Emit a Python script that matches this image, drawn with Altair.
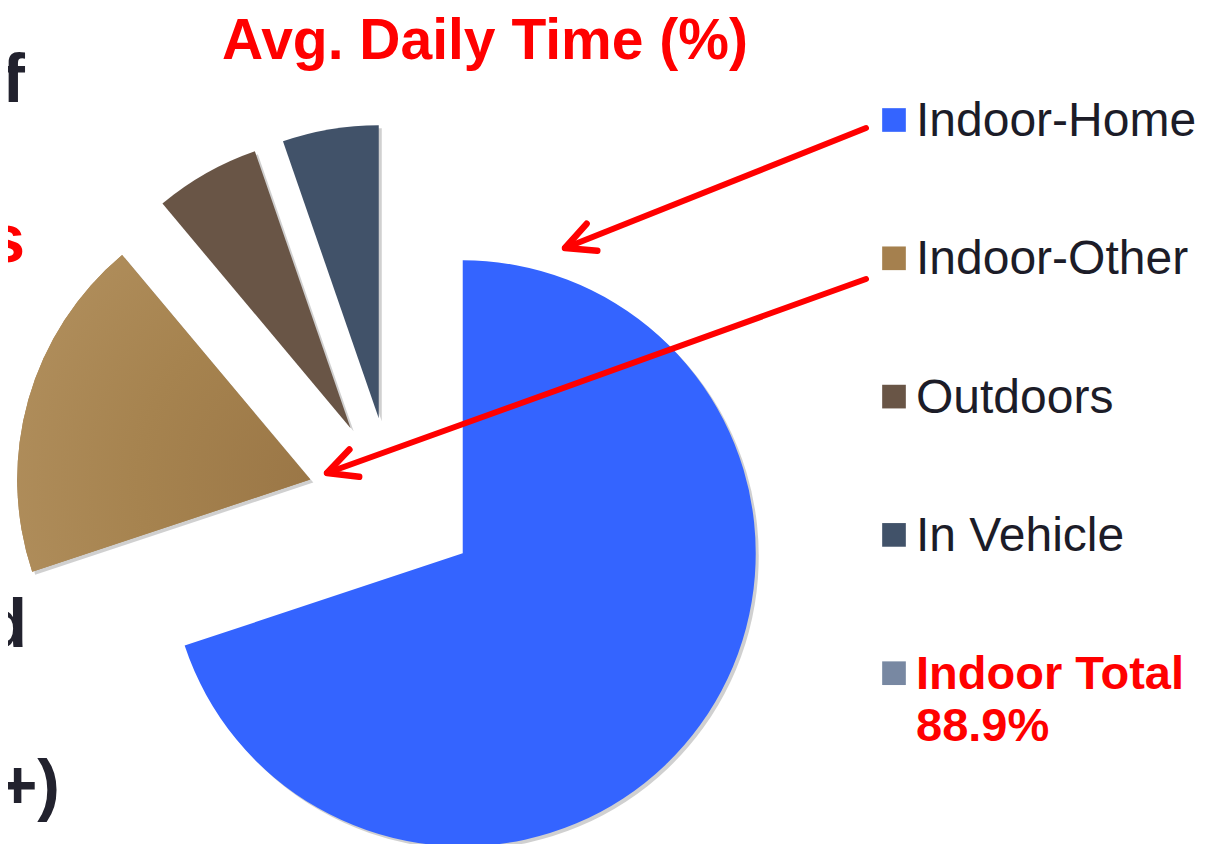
import altair as alt
import pandas as pd

# ---------------- data ----------------
categories = ["Indoor-Home", "Indoor-Other", "Outdoors", "In Vehicle"]
values = [69.9, 19.0, 5.8, 5.3]
slice_colors = ["#3464FF", "#A5804E", "#695546", "#415269"]
indoor_total = round(values[0] + values[1], 1)
legend_labels = categories + [f"Indoor Total\n{indoor_total}%"]
legend_colors = slice_colors + ["#7888A2"]
title_text = ["Avg. Daily Time (%)"]
side_fragments = ["f", "s", "d", "+)"]
side_colors = ["#22222E", "#FF0000", "#22222E", "#22222E"]

# ---------------- layout (pixels, chart coordinates) ----------------
W, H = 1196, 836
CX, CY = 385, 495
R = 293
EXPLODE = 86
LEG_X, LEG_Y0, LEG_DY = 886, 112, 138.3
side_x = [17, 17, 19, 52]
side_y = [94, 254, 639, 800]
arrow_x1 = [858, 858]
arrow_y1 = [120, 271]
arrow_x2 = [557, 319]
arrow_y2 = [240, 465]

pie_df = pd.DataFrame({"cat": categories, "value": values,
                       "order": list(range(len(categories))), "color": slice_colors})

base = (
    alt.Chart(pie_df)
    .transform_joinaggregate(total="sum(value)")
    .transform_window(cum="sum(value)", sort=[alt.SortField("order")], frame=[None, 0])
    .transform_calculate(t1="2*PI*datum.cum/datum.total")
    .transform_calculate(t0="2*PI*(datum.cum-datum.value)/datum.total")
    .transform_calculate(mid="(datum.t0+datum.t1)/2")
    .transform_calculate(cx=f"{CX}+{EXPLODE}*sin(datum.mid)")
    .transform_calculate(cy=f"{CY}-{EXPLODE}*cos(datum.mid)")
    .transform_calculate(sx="datum.cx+3")
    .transform_calculate(sy="datum.cy+3")
)

arc_enc = dict(
    theta=alt.Theta("t0:Q", scale=None),
    theta2=alt.Theta2("t1:Q"),
    x=alt.X("cx:Q", scale=None, axis=None),
    y=alt.Y("cy:Q", scale=None, axis=None),
)

shadow = base.mark_arc(radius=R, color="#444444", opacity=0.25).encode(
    theta=alt.Theta("t0:Q", scale=None),
    theta2=alt.Theta2("t1:Q"),
    x=alt.X("sx:Q", scale=None, axis=None),
    y=alt.Y("sy:Q", scale=None, axis=None),
)

arcs = base.mark_arc(radius=R, opacity=1).encode(
    color=alt.Color("color:N", scale=None, legend=None), **arc_enc
)

# radial shading on the Indoor-Other slice (darker near its point)
other_grad = base.transform_filter("datum.order == 1").mark_arc(
    radius=R, opacity=1,
    color=alt.Gradient(
        gradient="radial",
        stops=[alt.GradientStop(color="#9A7646", offset=0),
               alt.GradientStop(color="#A6834F", offset=0.55),
               alt.GradientStop(color="#B08E5C", offset=1)],
        x1=1.0, y1=0.71, r1=0, x2=1.0, y2=0.71, r2=1.05,
    ),
).encode(**arc_enc)

arrow_df = pd.DataFrame({"x1": arrow_x1, "y1": arrow_y1, "x2": arrow_x2, "y2": arrow_y2})
arrow_base = alt.Chart(arrow_df).transform_calculate(
    ang="atan2(datum.y2-datum.y1, datum.x2-datum.x1)*180/PI"
)
shafts = arrow_base.mark_rule(color="#FF0000", strokeWidth=6, strokeCap="round").encode(
    x=alt.X("x1:Q", scale=None, axis=None),
    y=alt.Y("y1:Q", scale=None, axis=None),
    x2="x2:Q",
    y2="y2:Q",
)
heads = arrow_base.mark_point(
    shape="M -1 -0.5 L 0 0 L -1 0.5",
    size=3364,
    filled=False,
    stroke="#FF0000",
    strokeWidth=6.5,
    strokeCap="round",
    strokeJoin="round",
    opacity=1,
).encode(
    x=alt.X("x2:Q", scale=None, axis=None),
    y=alt.Y("y2:Q", scale=None, axis=None),
    angle=alt.Angle("ang:Q", scale=None),
)

leg_df = pd.DataFrame({"label": legend_labels, "color": legend_colors,
                       "row": list(range(len(legend_labels)))})
leg = alt.Chart(leg_df).transform_calculate(ly=f"{LEG_Y0}+datum.row*{LEG_DY}")
squares = leg.mark_square(size=560, opacity=1).encode(
    x=alt.value(LEG_X),
    y=alt.Y("ly:Q", scale=None, axis=None),
    color=alt.Color("color:N", scale=None, legend=None),
)
leg_text = leg.transform_filter("datum.row < 4").mark_text(
    align="left", baseline="alphabetic", dy=16, dx=22,
    font="Liberation Sans", fontSize=48, color="#1C1C28",
).encode(
    x=alt.value(LEG_X),
    y=alt.Y("ly:Q", scale=None, axis=None),
    text="label:N",
)
leg_total = leg.transform_filter("datum.row >= 4").mark_text(
    align="left", baseline="alphabetic", dy=16, dx=22,
    font="Liberation Sans", fontSize=47, fontWeight="bold", color="#FF0000",
    lineBreak="\n", lineHeight=52,
).encode(
    x=alt.value(LEG_X),
    y=alt.Y("ly:Q", scale=None, axis=None),
    text="label:N",
)

title = alt.Chart(pd.DataFrame({"t": title_text})).mark_text(
    align="center", baseline="alphabetic", font="Liberation Sans",
    fontSize=57, fontWeight="bold", color="#FF0000",
).encode(x=alt.value(477), y=alt.value(51), text="t:N")

side_df = pd.DataFrame({"t": side_fragments, "c": side_colors, "x": side_x, "y": side_y})
side = alt.Chart(side_df).mark_text(
    align="right", baseline="alphabetic", font="Liberation Sans",
    fontSize=68, fontWeight="bold",
).encode(
    x=alt.X("x:Q", scale=None, axis=None),
    y=alt.Y("y:Q", scale=None, axis=None),
    text="t:N",
    color=alt.Color("c:N", scale=None, legend=None),
)

chart = (
    alt.layer(shadow, arcs, other_grad, shafts, heads, squares, leg_text, leg_total, title, side)
    .properties(width=W, height=H, padding=0, autosize=alt.AutoSizeParams(type="none"),
                background="white")
    .configure_view(stroke=None)
)

chart.save("out.html", embed_options={"renderer": "svg", "actions": False})
